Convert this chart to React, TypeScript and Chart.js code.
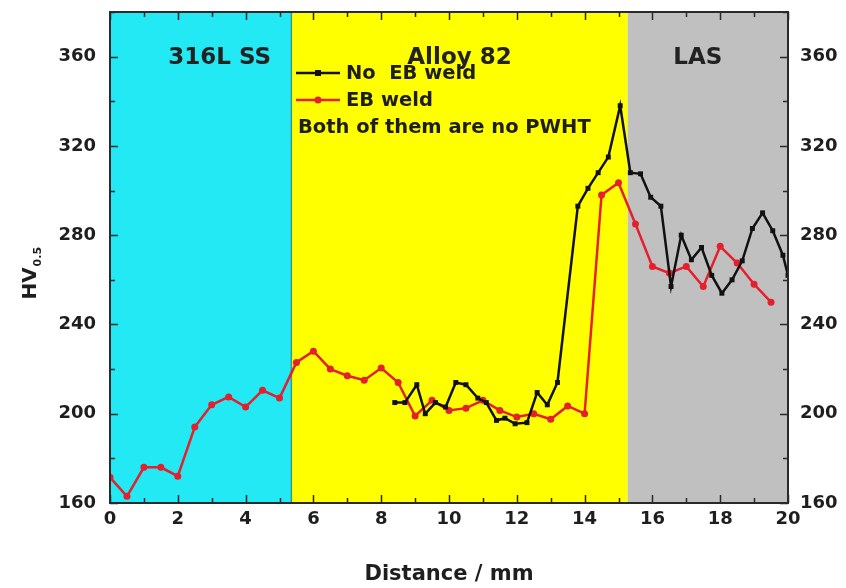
import React, { useEffect, useRef } from "react";
import { Chart, registerables } from "chart.js";

Chart.register(...registerables);

// ---- data ----
const RED_X = [0, 0.5, 1, 1.5, 2, 2.5, 3, 3.5, 4, 4.5, 5, 5.5, 6, 6.5, 7, 7.5, 8, 8.5, 9, 9.5, 10, 10.5, 11, 11.5, 12, 12.5, 13, 13.5, 14, 14.5, 15, 15.5, 16, 16.5, 17, 17.5, 18, 18.5, 19, 19.5];
const RED_Y = [171.5, 163, 176, 176, 172, 194, 204, 207.5, 203, 210.5, 207, 223, 228, 220, 217, 215, 220.5, 214, 199, 206, 201.5, 202.5, 206, 201.5, 198.5, 200, 197.5, 203.5, 200, 298, 303.5, 285, 266, 263, 266, 257, 275, 267.5, 258, 250];

const BLACK_X = [8.4, 8.7, 9.05, 9.3, 9.6, 9.9, 10.2, 10.5, 10.85, 11.1, 11.4, 11.65, 11.95, 12.3, 12.6, 12.9, 13.2, 13.8, 14.1, 14.4, 14.7, 15.05, 15.35, 15.65, 15.95, 16.25, 16.55, 16.85, 17.15, 17.45, 17.75, 18.05, 18.35, 18.65, 18.95, 19.25, 19.55, 19.85, 20.0];
const BLACK_Y = [205, 205, 213, 200, 205, 203, 214, 213, 207, 205, 197, 198, 195.5, 196, 209.5, 204, 214, 293, 301, 308, 315, 338, 308, 307.5, 297, 293, 257, 280, 269, 274.5, 262, 254, 260, 268.5, 283, 290, 282, 271, 262];

const X_TICKS = [0, 2, 4, 6, 8, 10, 12, 14, 16, 18, 20];
const Y_TICKS = [160, 200, 240, 280, 320, 360];
const X_MIN = 0, X_MAX = 20, Y_MIN = 160, Y_MAX = 380;

const REGION_BOUNDS = [0, 5.35, 15.27, 20];
const REGION_NAMES = ["316L SS", "Alloy 82", "LAS"];
const REGION_COLORS = ["#22e9f4", "#ffff00", "#c0c0c0"];

const SERIES_NAMES = ["No  EB weld", "EB weld"];
const NOTE = "Both of them are no PWHT";
const X_TITLE = "Distance / mm";
const Y_TITLE_MAIN = "HV";
const Y_TITLE_SUB = "0.5";

const FONT = "'DejaVu Sans', sans-serif";
const TXT = "#1e1e1e";
const RED = "#e3202c";

const LABEL_SHIFT = [19, 0, -10];

const decorPlugin = {
  id: "decor",
  beforeDatasetsDraw(chart: any) {
    const { ctx, chartArea: a, scales } = chart;
    const xs = scales.x;
    ctx.save();
    for (let i = 0; i < REGION_NAMES.length; i++) {
      const x0 = xs.getPixelForValue(REGION_BOUNDS[i]);
      const x1 = xs.getPixelForValue(REGION_BOUNDS[i + 1]);
      ctx.fillStyle = REGION_COLORS[i];
      ctx.fillRect(x0, a.top, x1 - x0, a.bottom - a.top);
    }
    const xb = xs.getPixelForValue(REGION_BOUNDS[1]);
    ctx.strokeStyle = "#3a9a8a";
    ctx.lineWidth = 1.5;
    ctx.beginPath();
    ctx.moveTo(xb, a.top);
    ctx.lineTo(xb, a.bottom);
    ctx.stroke();
    ctx.fillStyle = "#222";
    ctx.font = `bold 23px ${FONT}`;
    ctx.textAlign = "center";
    ctx.textBaseline = "middle";
    const ly = a.top + 46;
    for (let i = 0; i < REGION_NAMES.length; i++) {
      const x0 = xs.getPixelForValue(REGION_BOUNDS[i]);
      const x1 = xs.getPixelForValue(REGION_BOUNDS[i + 1]);
      ctx.fillText(REGION_NAMES[i], (x0 + x1) / 2 + LABEL_SHIFT[i], ly);
    }
    ctx.restore();
  },
  afterDatasetsDraw(chart: any) {
    const { ctx, chartArea: a, scales } = chart;
    const xs = scales.x, ys = scales.y;
    ctx.save();
    ctx.strokeStyle = "#2a2a2a";
    ctx.lineWidth = 1.5;
    ctx.beginPath();
    for (let v = X_MIN; v <= X_MAX; v += 1) {
      const px = Math.round(xs.getPixelForValue(v)) + 0.5;
      const len = v % 2 === 0 ? 8 : 5;
      ctx.moveTo(px, a.bottom);
      ctx.lineTo(px, a.bottom - len);
      ctx.moveTo(px, a.top);
      ctx.lineTo(px, a.top + len);
    }
    for (let v = Y_MIN; v <= Y_MAX; v += 20) {
      const py = Math.round(ys.getPixelForValue(v)) + 0.5;
      const len = v % 40 === 0 ? 8 : 5;
      ctx.moveTo(a.left, py);
      ctx.lineTo(a.left + len, py);
      ctx.moveTo(a.right, py);
      ctx.lineTo(a.right - len, py);
    }
    ctx.stroke();
    ctx.lineWidth = 2;
    ctx.strokeRect(a.left, a.top, a.right - a.left, a.bottom - a.top);
    ctx.restore();
  },
  afterDraw(chart: any) {
    const { ctx, chartArea: a } = chart;
    ctx.save();
    const lx0 = a.left + 186, lx1 = lx0 + 44, tx = lx1 + 6;
    const rows = [a.top + 61, a.top + 88];
    const cols = ["#111", RED];
    ctx.font = `bold 19.5px ${FONT}`;
    ctx.textBaseline = "middle";
    ctx.textAlign = "left";
    for (let i = 0; i < 2; i++) {
      ctx.strokeStyle = cols[i];
      ctx.lineWidth = 2.5;
      ctx.beginPath();
      ctx.moveTo(lx0, rows[i]);
      ctx.lineTo(lx1, rows[i]);
      ctx.stroke();
      ctx.fillStyle = cols[i];
      const mx = (lx0 + lx1) / 2;
      if (i === 0) ctx.fillRect(mx - 3, rows[i] - 3, 6, 6);
      else { ctx.beginPath(); ctx.arc(mx, rows[i], 3.5, 0, Math.PI * 2); ctx.fill(); }
      ctx.fillStyle = TXT;
      ctx.fillText(SERIES_NAMES[i], tx, rows[i] + 1);
    }
    ctx.fillText(NOTE, lx0 + 2, a.top + 116);
    ctx.font = `bold 21px ${FONT}`;
    ctx.textAlign = "center";
    ctx.fillText(X_TITLE, (a.left + a.right) / 2, 575);
    ctx.translate(31, (a.top + a.bottom) / 2 + 26);
    ctx.rotate(-Math.PI / 2);
    ctx.font = `bold 20px ${FONT}`;
    const w1 = ctx.measureText(Y_TITLE_MAIN).width;
    ctx.textAlign = "left";
    ctx.fillText(Y_TITLE_MAIN, -w1 / 2, 0);
    ctx.font = `bold 11px ${FONT}`;
    ctx.fillText(Y_TITLE_SUB, w1 / 2 + 1, 7);
    ctx.restore();
  },
};

function zeroPad(s: any) {
  s.paddingTop = 0;
  s.paddingBottom = 0;
  s.paddingLeft = 0;
  s.paddingRight = 0;
}

export default function App() {
  const ref = useRef<HTMLCanvasElement | null>(null);
  useEffect(() => {
    if (!ref.current) return;
    const tickFont = { family: FONT, size: 18, weight: "bold" as const };
    const chart = new Chart(ref.current, {
      type: "line",
      data: {
        datasets: [
          {
            label: SERIES_NAMES[0],
            data: BLACK_X.map((x, i) => ({ x, y: BLACK_Y[i] })),
            borderColor: "#111",
            backgroundColor: "#111",
            borderWidth: 2.5,
            pointStyle: "rect",
            pointRadius: 3.5,
            pointBorderWidth: 0,
          },
          {
            label: SERIES_NAMES[1],
            data: RED_X.map((x, i) => ({ x, y: RED_Y[i] })),
            borderColor: RED,
            backgroundColor: RED,
            borderWidth: 2.5,
            pointStyle: "circle",
            pointRadius: 3.5,
            pointBorderWidth: 0,
          },
        ],
      },
      options: {
        animation: false,
        responsive: false,
        maintainAspectRatio: false,
        layout: { padding: { top: 12, left: 0, right: 0, bottom: 0 } },
        plugins: { legend: { display: false }, tooltip: { enabled: false } },
        scales: {
          x: {
            type: "linear",
            min: X_MIN,
            max: X_MAX,
            grid: { display: false, drawTicks: false },
            border: { display: false },
            afterBuildTicks: (s: any) => { s.ticks = X_TICKS.map((v) => ({ value: v })); },
            afterFit: (s: any) => { s.height = 85; zeroPad(s); },
            ticks: { font: tickFont, color: TXT, padding: 6, maxRotation: 0, autoSkip: false },
          },
          y: {
            type: "linear",
            position: "left",
            min: Y_MIN,
            max: Y_MAX,
            grid: { display: false, drawTicks: false },
            border: { display: false },
            afterBuildTicks: (s: any) => { s.ticks = Y_TICKS.map((v) => ({ value: v })); },
            afterFit: (s: any) => { s.width = 110; zeroPad(s); },
            ticks: { font: tickFont, color: TXT, padding: 14 },
          },
          y2: {
            type: "linear",
            position: "right",
            min: Y_MIN,
            max: Y_MAX,
            grid: { display: false, drawTicks: false },
            border: { display: false },
            afterBuildTicks: (s: any) => { s.ticks = Y_TICKS.map((v) => ({ value: v })); },
            afterFit: (s: any) => { s.width = 58; zeroPad(s); },
            ticks: { font: tickFont, color: TXT, padding: 12 },
          },
        },
      },
      plugins: [decorPlugin],
    });
    return () => chart.destroy();
  }, []);
  return (
    <div style={{ position: "absolute", left: 0, top: 0, width: 846, height: 588, background: "#fff" }}>
      <canvas ref={ref} width={846} height={588} style={{ width: 846, height: 588 }} />
    </div>
  );
}
